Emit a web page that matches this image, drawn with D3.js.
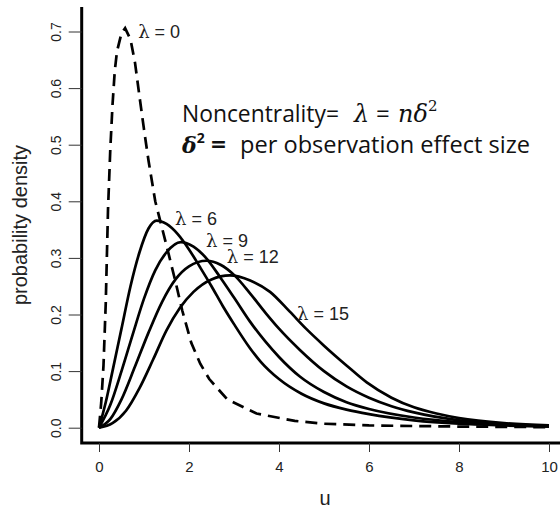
<!DOCTYPE html>
<html><head><meta charset="utf-8">
<script src="https://cdn.jsdelivr.net/npm/d3@7"></script>
<style>body{margin:0;background:#fff}svg{display:block}</style>
</head><body>
<script>
// ---- data ----
const xTicks = [0, 2, 4, 6, 8, 10];
const yTicks = [0.0, 0.1, 0.2, 0.3, 0.4, 0.5, 0.6, 0.7];
const lambdas = ["0", "6", "9", "12", "15"];
const curve0 = [[0,0],[0.05,0.045],[0.1,0.11],[0.15,0.22],[0.2,0.385],[0.25,0.49],[0.3,0.57],[0.35,0.63],[0.4,0.665],[0.5,0.697],[0.58,0.706],[0.7,0.686],[0.8,0.645],[0.9,0.585],[1.0,0.527],[1.1,0.472],[1.25,0.40],[1.5,0.322],[1.7,0.258],[1.85,0.207],[2.05,0.15],[2.25,0.113],[2.45,0.086],[2.85,0.05],[3.5,0.025],[4.35,0.012],[5,0.007],[6,0.004],[7,0.003],[8,0.002],[9,0.0015],[10,0.001]];
const curve6 = [[0,0],[0.15,0.045],[0.3,0.1],[0.5,0.175],[0.7,0.25],[0.9,0.31],[1.1,0.352],[1.28,0.366],[1.5,0.36],[1.75,0.342],[2.0,0.315],[2.25,0.283],[2.5,0.25],[2.75,0.215],[3.0,0.183],[3.36,0.14],[3.6,0.116],[4.0,0.086],[4.5,0.06],[5,0.043],[5.5,0.032],[6,0.024],[7,0.013],[8,0.007],[9,0.004],[10,0.002]];
const curve9 = [[0,0],[0.25,0.04],[0.5,0.1],[0.75,0.165],[1.0,0.228],[1.25,0.278],[1.5,0.31],[1.82,0.328],[2.1,0.32],[2.4,0.298],[2.7,0.265],[3.0,0.23],[3.36,0.187],[3.7,0.152],[4.0,0.125],[4.47,0.09],[5,0.063],[5.5,0.045],[6,0.033],[7,0.018],[8,0.01],[9,0.006],[10,0.003]];
const curve12 = [[0,0],[0.25,0.015],[0.5,0.05],[0.8,0.108],[1.1,0.168],[1.4,0.222],[1.7,0.262],[2.0,0.285],[2.39,0.295],[2.7,0.288],[3.0,0.27],[3.36,0.237],[3.7,0.203],[4.0,0.175],[4.47,0.137],[5,0.1],[5.5,0.073],[6,0.053],[6.5,0.038],[7,0.027],[8,0.013],[9,0.006],[10,0.003]];
const curve15 = [[0,0],[0.3,0.008],[0.6,0.03],[0.9,0.07],[1.2,0.12],[1.5,0.172],[1.8,0.212],[2.1,0.24],[2.5,0.262],[2.91,0.269],[3.36,0.26],[3.8,0.24],[4.24,0.205],[4.6,0.175],[5,0.145],[5.5,0.11],[5.95,0.08],[6.5,0.053],[7,0.036],[7.5,0.025],[8,0.017],[9,0.008],[10,0.004]];
const labelPos = [[0.87,0.689],[1.69,0.358],[2.38,0.32],[2.84,0.291],[4.4,0.19]];

// ---- drawing ----
const W = 560, H = 509;
const svg = d3.select("body").append("svg").attr("width", W).attr("height", H);
const x = d3.scaleLinear().domain([0, 10]).range([99, 549]);
const y = d3.scaleLinear().domain([0, 0.7]).range([427.7, 31.5]);
const sans = "Liberation Sans, Arial, sans-serif";
const osans = "Open Sans, sans-serif";
const serif = "DejaVu Serif, serif";

// axes (L-shaped box)
svg.append("path").attr("d", "M81.7,7 V443 H560").attr("fill", "none").attr("stroke", "#000").attr("stroke-width", 3);

const xAxis = d3.axisBottom(x).tickValues(xTicks).tickSize(9).tickPadding(9).tickFormat(d3.format("d"));
const gx = svg.append("g").attr("transform", "translate(0,443)").call(xAxis);
gx.select(".domain").remove();
gx.selectAll("line").attr("stroke", "#333").attr("stroke-width", 1);
gx.selectAll("text").attr("font-family", sans).attr("font-size", 15).attr("fill", "#222");

const yAxis = d3.axisLeft(y).tickValues(yTicks).tickSize(13).tickPadding(12).tickFormat(d3.format(".1f"));
const gy = svg.append("g").attr("transform", "translate(81.7,0)").call(yAxis);
gy.select(".domain").remove();
gy.selectAll("line").attr("stroke", "#333").attr("stroke-width", 1);
gy.selectAll("text").attr("font-family", sans).attr("font-size", 14).attr("fill", "#222")
  .attr("text-anchor", "middle").attr("dy", "0").attr("x", 0)
  .attr("transform", d => `translate(-26,0) rotate(-90)`).attr("y", 0).attr("dominant-baseline", "central");

svg.append("text").attr("x", 325).attr("y", 505).attr("text-anchor", "middle")
  .attr("font-family", sans).attr("font-size", 20).attr("fill", "#222").text("u");
svg.append("text").attr("transform", "translate(27,225) rotate(-90)").attr("text-anchor", "middle")
  .attr("font-family", sans).attr("font-size", 20).attr("fill", "#222").text("probability density");

// curves
const line = d3.line().x(d => x(d[0])).y(d => y(d[1])).curve(d3.curveMonotoneX);
const lineSharp = d3.line().x(d => x(d[0])).y(d => y(d[1])).curve(d3.curveLinear);
svg.append("path").datum(curve0).attr("d", lineSharp).attr("fill", "none").attr("stroke", "#000")
  .attr("stroke-width", 2.7).attr("stroke-dasharray", "12,7");
[curve6, curve9, curve12, curve15].forEach(c => {
  svg.append("path").datum(c).attr("d", line).attr("fill", "none").attr("stroke", "#000").attr("stroke-width", 2.7);
});

// lambda labels
lambdas.forEach((l, i) => {
  const t = svg.append("text").attr("x", x(labelPos[i][0])).attr("y", y(labelPos[i][1]))
    .attr("font-size", 18).attr("fill", "#222");
  t.append("tspan").attr("font-family", serif).text("λ");
  t.append("tspan").attr("font-family", sans).text(" = " + l);
});

// annotation, line 1
const ann = svg.append("g").attr("fill", "#111");
ann.append("text").attr("x", 182).attr("y", 122).attr("font-family", osans).attr("font-size", 24)
  .attr("textLength", 157).attr("lengthAdjust", "spacingAndGlyphs").text("Noncentrality=");
ann.append("text").attr("x", 354).attr("y", 122).attr("font-family", serif).attr("font-style", "italic")
  .attr("font-size", 24).text("λ");
ann.append("text").attr("x", 376).attr("y", 122).attr("font-family", osans).attr("font-size", 24).text("=");
const t3 = ann.append("text").attr("x", 398).attr("y", 122).attr("font-family", serif).attr("font-style", "italic")
  .attr("font-size", 24);
t3.append("tspan").text("nδ");
t3.append("tspan").attr("font-size", 15).attr("font-style", "normal").attr("dy", -11).text("2");
// annotation, line 2
const t4 = ann.append("text").attr("x", 182).attr("y", 153).attr("font-size", 22);
t4.append("tspan").attr("font-family", serif).attr("font-style", "italic").attr("font-weight", "bold").text("δ");
t4.append("tspan").attr("font-family", osans).attr("font-weight", "bold").attr("font-size", 14).attr("dy", -10).text("2");
ann.append("text").attr("x", 211).attr("y", 153).attr("font-family", osans).attr("font-weight", "bold")
  .attr("font-size", 24).attr("textLength", 15).attr("lengthAdjust", "spacingAndGlyphs").text("=");
ann.append("text").attr("x", 240).attr("y", 153).attr("font-family", osans).attr("font-size", 24)
  .attr("textLength", 290).attr("lengthAdjust", "spacingAndGlyphs").text("per observation effect size");
</script>
</body></html>
